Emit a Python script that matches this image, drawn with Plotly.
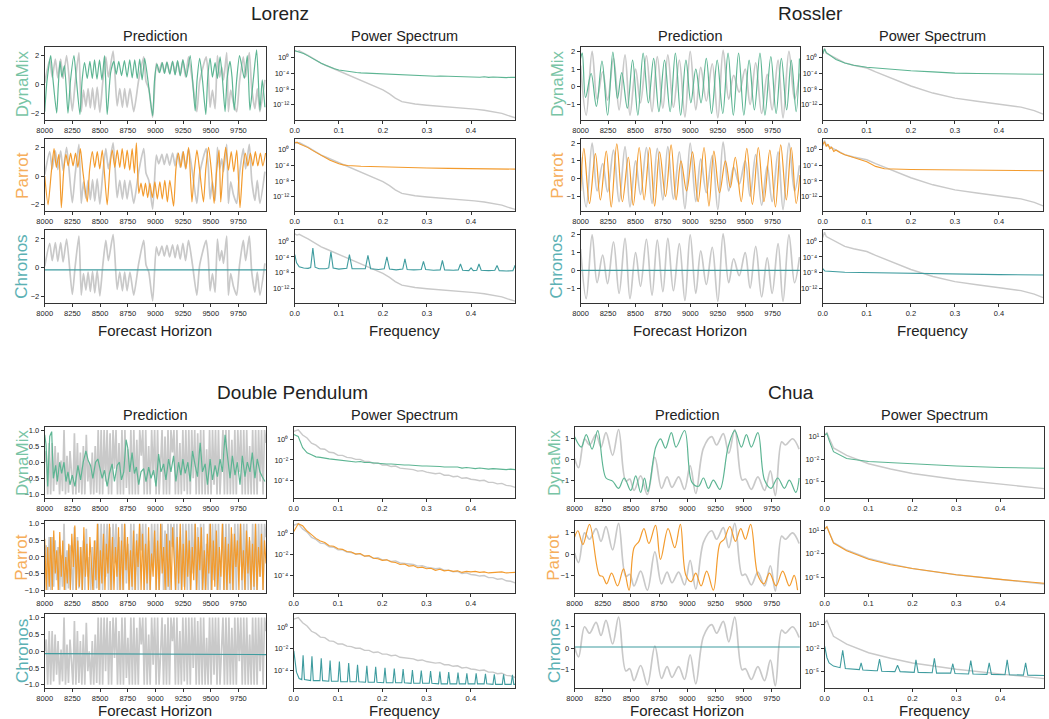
import numpy as np
import plotly.graph_objects as go

# ======================= DATA =======================
horizon_ticks = [8000, 8250, 8500, 8750, 9000, 9250, 9500, 9750]
freq_ticks = [0.0, 0.1, 0.2, 0.3, 0.4]

# ---------- Lorenz (time, value) extrema ----------
lor_gt = [(8000,0.1),(8045,1.7),(8068,0.5),(8096,1.75),(8118,0.45),(8144,1.75),(8166,0.4),(8198,2.0),(8249,-1.85),(8275,0.1),
          (8309,2.2),(8330,-1.9),(8350,-0.4),(8372,-1.55),(8392,-0.3),(8412,-1.65),(8432,-0.25),(8452,-1.75),(8474,-0.2),(8498,-1.95),
          (8525,0.2),(8552,1.9),(8575,0.5),(8618,2.3),(8654,-1.5),(8678,-0.3),(8702,-1.6),(8722,-0.3),(8744,-1.6),(8770,-0.3),
          (8804,-1.9),(8849,0.3),(8894,1.9),(8915,0.2),(8940,-0.3),(8975,-2.3),(9008,1.45),(9030,0.85),(9059,1.5),(9080,0.8),
          (9104,1.55),(9128,0.75),(9155,1.6),(9178,0.7),(9200,1.6),(9224,0.6),(9248,1.7),(9272,0.5),(9299,1.9),(9335,0.2),
          (9374,-1.9),(9400,0.2),(9458,1.9),(9478,0.6),(9494,-1.6),(9515,-0.4),(9539,-1.7),(9560,2.0),(9580,0.5),(9599,1.2),
          (9615,0.3),(9644,2.2),(9659,-1.9),(9680,-0.4),(9705,-1.3),(9734,-1.9),(9760,0.2),(9794,1.9),(9815,0.5),(9848,2.2),
          (9870,-0.3),(9899,-1.7),(9920,-0.3),(9944,-1.9),(9989,0.3)]
lor_dm = [(8000,-1.9),(8020,0.2),(8054,2.0),(8075,0.3),(8108,-2.0),(8122,-0.2),(8138,1.6),(8155,0.5),(8178,1.3),(8210,-2.0),
          (8232,0.2),(8264,2.0),(8285,0.4),(8318,-2.1),(8338,0.3),(8360,1.5),(8384,0.4),(8408,1.6),(8430,0.4),(8450,1.7),
          (8472,0.35),(8495,1.7),(8517,0.3),(8540,2.0),(8564,-2.1),(8595,0.8),(8624,1.6),(8646,0.7),(8669,1.6),(8694,0.6),
          (8720,1.65),(8744,0.5),(8768,1.7),(8790,0.45),(8813,1.7),(8836,0.4),(8858,1.75),(8880,0.3),(8903,1.8),(8935,0.1),
          (8975,-2.2),(8992,0.3),(9014,1.4),(9038,0.8),(9062,1.5),(9083,0.75),(9104,1.55),(9130,0.7),(9155,1.6),(9178,0.65),
          (9200,1.65),(9224,0.6),(9248,1.7),(9280,0.5),(9314,2.0),(9359,-1.85),(9376,0.3),(9400,1.8),(9425,0.3),(9455,-2.1),
          (9472,0.4),(9494,1.8),(9515,0.5),(9539,1.5),(9560,0.4),(9584,1.9),(9605,0.4),(9629,-1.9),(9648,0.4),(9674,1.6),
          (9692,0.5),(9712,-1.8),(9734,0.3),(9760,2.0),(9803,0.4),(9830,2.0),(9854,-1.8),(9885,0.4),(9914,2.4),(9944,-1.8),
          (9965,0.3),(9989,-1.6)]
lor_pa = [(8000,0.0),(8030,-2.0),(8060,0.3),(8084,1.9),(8105,0.6),(8128,1.5),(8150,-2.2),(8172,0.4),(8192,1.5),(8212,0.7),
          (8234,1.6),(8256,0.7),(8278,1.6),(8300,0.6),(8322,1.9),(8345,0.3),(8384,-1.8),(8405,0.4),(8430,1.7),(8452,0.6),
          (8475,1.7),(8497,0.5),(8520,1.8),(8564,-2.0),(8588,0.5),(8610,1.8),(8633,0.6),(8655,1.8),(8678,0.6),(8700,1.9),
          (8722,0.5),(8745,1.8),(8768,0.4),(8790,1.9),(8810,0.2),(8828,2.3),(8850,-1.2),(8870,-0.5),(8890,-1.4),(8910,-0.5),
          (8930,-1.5),(8950,-0.5),(8972,-1.5),(8995,-0.4),(9017,-1.6),(9040,-0.4),(9062,-1.6),(9085,-0.3),(9108,-1.8),(9130,-0.3),
          (9164,-2.1),(9185,0.5),(9208,1.6),(9230,0.6),(9252,1.7),(9275,0.5),(9300,2.0),(9330,-1.8),(9352,0.4),(9375,1.8),
          (9398,0.5),(9434,-1.8),(9455,0.5),(9480,2.0),(9505,0.4),(9530,-1.9),(9552,0.3),(9575,1.8),(9590,-1.8),(9612,0.5),
          (9635,2.0),(9660,0.4),(9685,1.7),(9708,0.3),(9735,1.8),(9764,-2.2),(9790,0.6),(9812,1.6),(9835,0.7),(9858,1.6),
          (9880,0.7),(9903,1.7),(9925,0.7),(9948,1.6),(9970,0.7),(9995,1.6)]
lor_ch = [(8000,-0.14),(9999,-0.15)]

# Lorenz spectra (frequency, log10 power)
lor_ps_gt = [(0.0,1.9),(0.005,1.6),(0.01,1.8),(0.015,1.4),(0.02,1.2),(0.03,0.6),(0.04,-0.1),(0.05,-0.9),(0.06,-1.4),(0.07,-1.9),
             (0.08,-2.4),(0.09,-2.8),(0.1,-3.3),(0.12,-4.3),(0.145,-5.5),(0.17,-6.8),(0.2,-8.2),(0.215,-9.2),(0.228,-10.3),(0.243,-11.2),
             (0.26,-11.6),(0.273,-11.8),(0.3,-12.1),(0.348,-12.5),(0.38,-12.8),(0.408,-13.1),(0.43,-13.4),(0.453,-13.8),(0.47,-14.2),
             (0.483,-14.7),(0.5,-15.3)]
lor_ps_dm = [1.8,1.5,1.1,0.5,-0.2,-0.8,-1.4,-1.9,-2.4,-2.8,-3.1,-3.3,-3.5,-3.6,-3.75,-3.85,-3.9,-4.05,-4.0,-4.15,
             -4.25,-4.2,-4.3,-4.35,-4.3,-4.45,-4.4,-4.5,-4.45,-4.6,-4.55,-4.6,-4.7,-4.65,-4.7,-4.8,-4.7,-4.85,-4.8,-4.9,
             -4.85,-4.9,-4.95,-4.85,-5.0,-4.9,-5.0,-4.95,-5.05,-4.95,-5.0]
lor_ps_pa = [(0,1.7),(0.005,1.9),(0.01,1.5),(0.02,1.1),(0.03,0.5),(0.04,-0.2),(0.05,-0.9),(0.06,-1.5),(0.07,-2.1),(0.08,-2.7),
             (0.09,-3.2),(0.1,-3.6),(0.11,-3.9),(0.12,-4.05),(0.15,-4.25),(0.2,-4.45),(0.25,-4.6),(0.3,-4.72),(0.35,-4.8),(0.4,-4.88),
             (0.45,-4.95),(0.5,-5.0)]
lor_ps_ch = [(0,-3.4),(0.004,-5.5),(0.01,-6.5),(0.02,-6.8),(0.03,-6.9),(0.036,-6.7),(0.041,-1.7),(0.046,-6.6),(0.055,-7.0),(0.07,-7.0),
             (0.077,-6.8),(0.082,-2.7),(0.087,-6.8),(0.1,-7.1),(0.118,-6.9),(0.124,-3.4),(0.13,-7.0),(0.15,-7.1),(0.16,-7.0),(0.166,-3.6),
             (0.172,-7.0),(0.19,-7.2),(0.203,-7.0),(0.209,-4.0),(0.215,-7.1),(0.23,-7.3),(0.245,-7.1),(0.25,-4.5),(0.255,-7.2),(0.27,-7.3),
             (0.287,-7.2),(0.292,-5.1),(0.297,-7.2),(0.315,-7.4),(0.33,-7.3),(0.335,-4.9),(0.34,-7.3),(0.36,-7.4),(0.371,-7.3),(0.376,-5.8),
             (0.381,-7.4),(0.395,-7.5),(0.40,-6.8),(0.405,-7.5),(0.413,-7.4),(0.418,-5.8),(0.423,-7.4),(0.44,-7.5),(0.454,-7.4),(0.459,-6.2),
             (0.464,-7.5),(0.48,-7.6),(0.495,-7.5),(0.5,-6.1)]

# ---------- Rossler ----------
ros_gt = [(8000,1.2),(8051,-1.6),(8105,2.0),(8150,-0.7),(8201,0.85),(8246,-0.75),(8300,1.6),(8351,-1.3),(8405,1.8),(8450,-1.6),
          (8501,1.0),(8546,-0.9),(8600,1.75),(8651,-1.4),(8699,1.7),(8750,-1.2),(8795,1.8),(8846,-1.15),(8900,1.5),(8951,-1.7),
          (8999,2.0),(9050,-1.3),(9095,1.1),(9146,-0.8),(9200,1.3),(9251,-1.75),(9299,2.05),(9350,-0.7),(9395,0.65),(9446,-0.3),
          (9500,1.0),(9545,-1.0),(9596,1.35),(9650,-1.5),(9701,0.7),(9746,-1.3),(9800,1.5),(9845,-1.75),(9899,2.0),(9950,-0.7),
          (9995,0.75)]
ros_dm = [(8000,1.6),(8015,1.9),(8045,-0.6),(8096,0.75),(8144,-1.1),(8195,1.45),(8246,-1.6),(8294,1.95),(8336,-0.65),(8375,0.8),
          (8426,-1.2),(8474,1.5),(8522,-1.6),(8570,1.9),(8618,-0.9),(8666,1.6),(8714,-1.4),(8765,1.5),(8816,-1.4),(8864,1.9),
          (8912,-1.6),(8960,1.5),(9005,-0.9),(9050,1.0),(9098,-0.9),(9146,1.6),(9194,-1.5),(9245,1.5),(9296,-1.5),(9344,1.9),
          (9392,-1.6),(9440,1.9),(9488,-1.6),(9536,1.5),(9584,-1.3),(9635,1.9),(9680,-1.6),(9734,1.7),(9782,-1.5),(9830,1.6),
          (9878,-1.3),(9920,1.5),(9965,-1.4),(9995,1.6)]
ros_pa = [(8000,-0.7),(8030,1.7),(8081,-1.4),(8135,1.4),(8180,-1.2),(8234,1.55),(8279,-1.6),(8330,1.95),(8381,-1.3),(8435,1.2),
          (8480,-1.5),(8534,1.75),(8579,-1.2),(8630,1.75),(8675,-1.55),(8720,1.5),(8774,-1.0),(8825,1.9),(8870,-1.2),(8915,1.0),
          (8966,-0.7),(9020,1.5),(9071,-1.3),(9125,1.75),(9170,-1.55),(9215,1.55),(9266,-0.8),(9320,1.0),(9365,-0.5),(9410,1.2),
          (9464,-1.3),(9515,1.7),(9566,-1.45),(9620,1.75),(9671,-1.3),(9725,1.6),(9776,-1.6),(9824,1.9),(9875,-1.2),(9920,1.75),
          (9965,-1.4),(9999,0.2)]
ros_ch = [(8000,0.0),(9999,0.0)]

ros_ps_gt = [(0,1.0),(0.004,2.3),(0.008,1.2),(0.015,0.8),(0.02,0.5),(0.03,-0.2),(0.05,-1.3),(0.07,-1.9),(0.1,-2.6),(0.12,-3.6),
             (0.15,-5.0),(0.2,-7.2),(0.25,-9.0),(0.3,-10.3),(0.35,-11.1),(0.4,-11.8),(0.45,-12.6),(0.48,-13.5),(0.5,-14.4)]
ros_ps_dm = [(0,1.0),(0.004,2.3),(0.008,1.3),(0.015,0.7),(0.02,0.3),(0.03,-0.4),(0.05,-1.3),(0.07,-1.9),(0.1,-2.4),(0.15,-2.9),
             (0.2,-3.3),(0.25,-3.6),(0.3,-3.9),(0.35,-4.0),(0.4,-4.1),(0.45,-4.1),(0.5,-4.2)]
ros_ps_pa = [(0,1.3),(0.004,2.0),(0.008,0.8),(0.012,1.4),(0.016,0.2),(0.02,0.6),(0.025,-0.5),(0.03,-0.1),(0.04,-0.8),(0.05,-1.3),
             (0.07,-2.0),(0.1,-3.1),(0.12,-4.3),(0.14,-4.9),(0.2,-5.1),(0.3,-5.2),(0.4,-5.3),(0.5,-5.4)]
ros_ps_ch = [(0,-7.0),(0.005,-7.6),(0.05,-7.9),(0.1,-8.0),(0.2,-8.1),(0.3,-8.3),(0.4,-8.5),(0.5,-8.6)]

# ---------- Double Pendulum ----------
dp_gt = [0.0,0.35,-1.0,0.6,-1.0,0.6,-0.9,0.5,-0.7,0.3,-1.0,0.05,-0.9,1.0,-1.0,0.2,-0.95,0.35,-0.3,-1.0,
         0.9,-1.0,0.6,-0.95,0.3,-1.0,0.5,-1.0,0.85,-0.6,0.0,-1.0,0.3,-1.0,0.5,-0.95,1.0,-1.0,
         1.0,-1.0,1.0,-0.6,1.0,-1.0,0.9,-1.0,1.0,-0.2,1.0,-1.0,0.6,-1.0,1.0,-1.0,1.0,-0.8,0.4,-1.0,
         1.0,-1.0,1.0,-1.0,0.7,-1.0,1.0,0.2,1.0,-1.0,1.0,-1.0,0.5,-1.0,1.0,-0.4,1.0,-1.0,1.0,-1.0,
         -0.1,1.0,-1.0,0.8,-1.0,1.0,-1.0,1.0,0.3,1.0,-1.0,1.0,-1.0,0.6,-1.0,1.0,-0.9,1.0,-1.0,1.0,
         -1.0,1.0,-0.5,1.0,-1.0,0.9,-1.0,1.0,-1.0,1.0,-1.0,0.4,-1.0,1.0,-1.0,1.0,-0.7,1.0,-1.0,1.0,
         -1.0,0.2,1.0,-1.0,1.0,-1.0,1.0,-1.0,0.7,-1.0,1.0,-1.0,1.0,-0.3,1.0,-1.0,1.0,-1.0,1.0,-1.0,
         0.5,-1.0,1.0,-1.0,1.0,-1.0,1.0,-0.6,1.0,-1.0,1.0,0.6]
dp_dm = [(8000,0.85),(8012,0.55),(8027,-0.75),(8045,0.8),(8063,0.95),(8078,-0.5),(8099,-0.1),(8114,-0.6),(8135,0.0),(8153,-0.35),
         (8174,0.0),(8192,-0.6),(8210,-0.3),(8228,-0.7),(8249,-0.4),(8273,-0.75),(8300,-0.1),(8324,-0.55),(8348,0.0),(8372,0.35),
         (8393,0.05),(8414,-0.1),(8435,-0.5),(8459,0.0),(8480,0.1),(8498,-0.2),(8519,-0.5),(8540,-0.25),(8564,-0.75),(8585,-0.35),
         (8609,-0.05),(8630,-0.6),(8654,-0.1),(8675,0.0),(8693,-0.55),(8714,-0.3),(8735,0.7),(8750,0.45),(8768,-0.3),(8789,0.3),
         (8810,-0.35),(8828,-0.15),(8849,-0.7),(8870,-0.3),(8894,-0.2),(8915,-0.6),(8939,-0.15),(8960,-0.5),(8984,-0.25),(9005,-0.75),
         (9029,0.25),(9050,-0.3),(9074,-0.05),(9095,-0.55),(9119,0.1),(9140,-0.3),(9164,0.2),(9185,-0.6),(9209,0.0),(9230,-0.4),
         (9248,0.1),(9269,-0.35),(9293,0.0),(9314,-0.6),(9335,0.35),(9359,-0.1),(9380,-0.45),(9404,0.6),(9425,-0.3),(9449,-0.05),
         (9470,-0.7),(9494,0.1),(9515,-0.55),(9539,-0.1),(9560,-0.45),(9584,0.1),(9605,-0.3),(9629,0.85),(9650,0.3),(9674,-0.5),
         (9695,0.2),(9719,-0.4),(9740,0.0),(9764,-0.7),(9785,0.2),(9809,-0.45),(9830,0.0),(9854,-0.3),(9875,0.3),(9899,-0.5),
         (9920,0.1),(9944,-0.3),(9965,-0.45),(9989,-0.6)]
dp_pa = [0.55,-1.0,0.3,-0.9,0.6,-1.0,0.8,-0.5,0.2,-1.0,0.75,-0.6,0.5,-1.0,0.0,-0.8,0.4,-1.0,0.7,-0.3,
         0.95,-1.0,0.5,-0.9,0.3,-1.0,0.9,-0.6,0.4,-1.0,0.6,-0.2,-1.0,0.5,-0.7,1.0,-1.0,0.2,-0.8,0.7,
         -1.0,0.4,-0.5,1.0,-1.0,0.6,-1.0,0.3,-0.6,0.9,-1.0,0.5,-1.0,1.0,-0.4,0.6,-1.0,0.2,-0.9,0.8,
         -1.0,0.5,-0.3,1.0,-1.0,0.7,-1.0,0.4,-0.8,0.9,-1.0,0.1,-0.6,0.8,-1.0,0.5,-1.0,1.0,-0.5,0.3,
         -1.0,0.7,-0.9,0.5,-1.0,0.9,-0.2,-1.0,0.6,-0.8,1.0,-1.0,0.4,-1.0,0.8,-0.6,0.5,-1.0,0.3,-0.7,
         1.0,-1.0,0.6,-0.4,0.9,-1.0,0.2,-1.0,0.7,-0.5,1.0,-1.0,0.5,-0.9,0.8,-1.0,0.3,-0.6,1.0,-1.0,
         0.6,-1.0,0.4,-0.8,0.9,-1.0,0.7,-0.3,0.5,-1.0,1.0,-0.7,0.2,-1.0,0.8,-0.5,0.6,-1.0,0.4,-0.9,
         1.0,-1.0,0.3,-0.6,0.7,-1.0,0.5,-0.2]
dp_ch = [(8000,-0.07),(9999,-0.1)]

# DP spectra sampled every 0.01 in frequency (log10 power)
dp_ps_gt = [0.8,0.95,0.45,0.15,-0.35,-0.55,-0.9,-0.95,-1.25,-1.3,-1.55,-1.55,-1.75,-1.8,-1.95,-1.95,-2.15,-2.15,-2.35,-2.3,
            -2.5,-2.5,-2.65,-2.6,-2.8,-2.85,-2.9,-2.95,-3.1,-3.05,-3.2,-3.25,-3.35,-3.3,-3.5,-3.5,-3.65,-3.6,-3.8,-3.75,
            -3.9,-3.95,-4.05,-4.0,-4.2,-4.2,-4.35,-4.3,-4.5,-4.55,-4.7]
dp_ps_dm = [0.5,0.3,-0.8,-1.3,-1.5,-1.7,-1.75,-1.85,-1.9,-1.95,-2.0,-2.05,-2.1,-2.1,-2.2,-2.15,-2.25,-2.25,-2.3,-2.3,
            -2.35,-2.4,-2.4,-2.45,-2.45,-2.5,-2.5,-2.55,-2.55,-2.6,-2.6,-2.6,-2.65,-2.65,-2.7,-2.7,-2.75,-2.7,-2.8,-2.75,
            -2.8,-2.85,-2.8,-2.85,-2.9,-2.85,-2.9,-2.9,-2.95,-2.9,-2.95]
dp_ps_pa = [0.2,0.95,0.75,0.25,-0.1,-0.45,-0.7,-0.85,-1.15,-1.2,-1.45,-1.5,-1.7,-1.75,-1.95,-1.9,-2.15,-2.1,-2.35,-2.4,
            -2.55,-2.5,-2.7,-2.75,-2.95,-2.9,-3.1,-3.05,-3.25,-3.2,-3.35,-3.3,-3.5,-3.4,-3.55,-3.5,-3.6,-3.55,-3.7,-3.6,
            -3.65,-3.6,-3.7,-3.65,-3.75,-3.7,-3.7,-3.65,-3.75,-3.7,-3.7]
dp_ps_ch = [(0,-2.2),(0.006,-4.2),(0.012,-4.8),(0.018,-4.9),(0.021,-2.6),(0.024,-4.9),(0.038,-5.0),(0.041,-2.7),(0.044,-5.0),
            (0.059,-5.0),(0.062,-2.9),(0.065,-5.0),(0.079,-5.05),(0.082,-3.1),(0.085,-5.05),(0.100,-5.05),(0.103,-3.2),(0.106,-5.1),
            (0.121,-5.1),(0.124,-3.35),(0.127,-5.1),(0.141,-5.1),(0.144,-3.5),(0.147,-5.1),(0.162,-5.15),(0.165,-3.6),(0.168,-5.15),
            (0.182,-5.15),(0.185,-3.7),(0.188,-5.15),(0.203,-5.2),(0.206,-3.8),(0.209,-5.2),(0.224,-5.2),(0.227,-3.85),(0.230,-5.2),
            (0.244,-5.2),(0.247,-3.9),(0.250,-5.2),(0.265,-5.25),(0.268,-4.0),(0.271,-5.25),(0.285,-5.25),(0.288,-4.05),(0.291,-5.25),
            (0.306,-5.25),(0.309,-4.1),(0.312,-5.25),(0.327,-5.3),(0.330,-4.15),(0.333,-5.3),(0.347,-5.3),(0.350,-4.2),(0.353,-5.3),
            (0.368,-5.3),(0.371,-4.25),(0.374,-5.3),(0.388,-5.3),(0.391,-4.3),(0.394,-5.3),(0.409,-5.3),(0.412,-4.3),(0.415,-5.3),
            (0.430,-5.3),(0.433,-4.35),(0.436,-5.3),(0.450,-5.35),(0.453,-4.4),(0.456,-5.35),(0.471,-5.35),(0.474,-4.4),(0.477,-5.35),
            (0.491,-5.35),(0.494,-4.45),(0.497,-5.35),(0.5,-5.35)]

# ---------- Chua ----------
chua_gt = [(8000,0.05),(8035,-0.4),(8088,1.0),(8132,0.7),(8190,1.2),(8234,0.6),(8278,1.3),(8337,0.2),(8390,1.45),(8454,-1.05),
           (8489,-0.95),(8527,-1.5),(8586,-0.8),(8645,-1.7),(8712,0.1),(8771,-1.4),(8820,-0.85),(8864,-1.35),(8923,-0.85),(8975,-1.45),
           (9025,-0.3),(9075,-1.65),(9143,0.55),(9216,1.1),(9260,0.7),(9319,1.25),(9368,0.3),(9421,1.45),(9486,-1.0),(9515,-0.95),
           (9568,-1.45),(9626,-0.85),(9685,-1.5),(9737,-0.55),(9781,-1.75),(9837,0.85),(9870,0.7),(9934,1.0),(9992,0.5)]
chua_dm = [(8000,1.1),(8059,0.6),(8103,1.2),(8155,0.5),(8205,1.4),(8278,-0.9),(8337,-1.05),(8390,-1.4),(8440,-0.9),(8498,-1.5),
           (8542,-0.8),(8586,-1.6),(8620,-0.9),(8650,-1.55),(8720,0.6),(8762,1.0),(8806,0.55),(8858,1.3),(8900,0.6),(8976,1.4),
           (9040,-1.1),(9099,-1.3),(9143,-0.9),(9187,-1.4),(9231,-1.0),(9289,-1.45),(9362,0.6),(9421,1.4),(9480,0.6),(9524,1.2),
           (9568,0.6),(9626,1.3),(9685,-1.0),(9743,-1.4),(9802,-0.9),(9861,-1.4),(9905,-1.0),(9963,-1.6),(9992,-0.9)]
chua_pa = [(8000,0.8),(8029,1.1),(8073,0.45),(8132,1.4),(8220,-1.0),(8249,-1.05),(8284,-1.4),(8328,-0.9),(8381,-1.5),(8434,-0.7),
           (8483,-1.7),(8527,0.3),(8571,0.6),(8615,1.2),(8659,0.5),(8718,1.35),(8762,-0.25),(8829,1.2),(8888,0.3),(8938,1.4),
           (8987,-1.0),(9034,-1.3),(9075,-0.9),(9122,-1.5),(9172,-0.8),(9231,-1.7),(9289,0.5),(9327,0.7),(9377,1.3),(9427,0.6),
           (9474,1.2),(9515,0.7),(9562,1.4),(9626,-1.0),(9679,-1.4),(9729,-0.9),(9787,-1.5),(9846,-0.8),(9905,-1.5),(9948,-1.0),
           (9978,-1.7)]
chua_ch = [(8000,0.06),(9999,0.06)]

chua_ps_gt = [(0,1.2),(0.005,1.5),(0.01,0.8),(0.02,-0.5),(0.05,-1.5),(0.1,-2.6),(0.15,-3.3),(0.2,-3.9),(0.3,-4.7),(0.4,-5.3),(0.5,-5.9)]
chua_ps_dm = [(0,1.2),(0.005,1.4),(0.01,0.5),(0.02,-1.0),(0.05,-1.9),(0.1,-2.3),(0.2,-2.6),(0.3,-2.9),(0.4,-3.1),(0.5,-3.2)]
chua_ps_pa = [(0,1.2),(0.005,1.5),(0.01,0.8),(0.02,-0.6),(0.05,-1.6),(0.1,-2.7),(0.15,-3.4),(0.2,-3.9),(0.3,-4.7),(0.4,-5.3),(0.5,-5.8)]
chua_ps_ch = [(0,-1.8),(0.005,-3.2),(0.01,-3.9),(0.02,-4.3),(0.035,-4.5),(0.041,-2.3),(0.047,-4.6),(0.07,-4.7),(0.079,-4.75),
              (0.083,-3.9),(0.087,-4.8),(0.115,-4.9),(0.12,-4.9),(0.125,-3.4),(0.13,-4.95),(0.16,-5.0),(0.166,-4.2),(0.172,-5.0),
              (0.2,-5.05),(0.204,-5.1),(0.208,-3.5),(0.213,-5.1),(0.245,-5.15),(0.25,-3.3),(0.255,-5.2),(0.287,-5.2),(0.292,-4.0),
              (0.297,-5.25),(0.328,-5.3),(0.333,-3.6),(0.338,-5.3),(0.37,-5.35),(0.375,-3.9),(0.38,-5.35),(0.411,-5.4),(0.416,-3.5),
              (0.421,-5.4),(0.453,-5.45),(0.458,-3.9),(0.463,-5.45),(0.5,-5.5)]

# ======================= STYLE / LAYOUT =======================
FONT = "Liberation Sans, Arial, Helvetica, sans-serif"
W, H = 1049, 719
C_GT, C_DM, C_PA, C_CH = "#c9c9c9", "#5db593", "#f39b2d", "#3f9c9f"
L_DM, L_PA, L_CH = "#78c4a5", "#f6ae5c", "#5cb1b4"
SUP = str.maketrans("-0123456789", "⁻⁰¹²³⁴⁵⁶⁷⁸⁹")


def pow_label(e):
    return "10" + str(e).translate(SUP)


def unzip(pairs):
    return [p[0] for p in pairs], [p[1] for p in pairs]


def series_xy(ser, lo, hi):
    if isinstance(ser[0], tuple):
        return unzip(ser)
    return list(np.linspace(lo, hi, len(ser))), ser


blocks = [
    dict(name="Lorenz", title=(274, 13), pred_x=(37, 260), ps_x=(289, 511),
         rows=[(46, 119), (138, 211), (230, 303)], label_x=14, coltitle_y=35, xtitle_y=330,
         series=[lor_dm, lor_pa, lor_ch], gt=lor_gt, shape="spline", smooth=0.6,
         yrange=[-2.46, 2.6], yticks=[-2, 0, 2], ytext=["−2", "0", "2"],
         ps=[lor_ps_dm, lor_ps_pa, lor_ps_ch], ps_gt=lor_ps_gt, psrange=[-15.8, 2.8], psticks=[0, -4, -8, -12]),
    dict(name="Rossler", title=(809, 13), pred_x=(577, 798), ps_x=(821, 1043),
         rows=[(46, 119), (138, 211), (230, 303)], label_x=553, coltitle_y=35, xtitle_y=330,
         series=[ros_dm, ros_pa, ros_ch], gt=ros_gt, shape="spline", smooth=1.0,
         yrange=[-1.85, 2.25], yticks=[-1, 0, 1, 2], ytext=["−1", "0", "1", "2"],
         ps=[ros_ps_dm, ros_ps_pa, ros_ps_ch], ps_gt=ros_ps_gt, psrange=[-15.8, 2.8], psticks=[0, -4, -8, -12]),
    dict(name="Double Pendulum", title=(287, 393), pred_x=(37, 260), ps_x=(288, 511),
         rows=[(427, 498), (521, 594), (615, 689)], label_x=14, coltitle_y=415, xtitle_y=711,
         series=[dp_dm, dp_pa, dp_ch], gt=dp_gt, shape="linear", smooth=0,
         yrange=[-1.1, 1.1], yticks=[-1, -0.5, 0, 0.5, 1], ytext=["−1.0", "−0.5", "0.0", "0.5", "1.0"],
         ps=[dp_ps_dm, dp_ps_pa, dp_ps_ch], ps_gt=dp_ps_gt, psrange=[-5.7, 1.25], psticks=[0, -2, -4]),
    dict(name="Chua", title=(789, 393), pred_x=(571, 798), ps_x=(823, 1044),
         rows=[(427, 498), (521, 594), (615, 689)], label_x=550, coltitle_y=415, xtitle_y=711,
         series=[chua_dm, chua_pa, chua_ch], gt=chua_gt, shape="spline", smooth=1.0,
         yrange=[-1.85, 1.58], yticks=[-1, 0, 1], ytext=["−1", "0", "1"],
         ps=[chua_ps_dm, chua_ps_pa, chua_ps_ch], ps_gt=chua_ps_gt, psrange=[-7.1, 2.3], psticks=[1, -2, -5]),
]
models = [("DynaMix", C_DM, L_DM), ("Parrot", C_PA, L_PA), ("Chronos", C_CH, L_CH)]

axis_common = dict(showline=True, linecolor="#333", linewidth=1, mirror=True, ticks="outside", ticklen=3,
                   tickwidth=0.8, tickcolor="#333", showgrid=False, zeroline=False,
                   tickfont=dict(family=FONT, size=7.5, color="#222"))

fig = go.Figure()
layout_axes = {}
annotations = []
k = 0


def add_panel(box_x, box_y, traces, xcfg, ycfg):
    global k
    k += 1
    xn = "x" if k == 1 else f"x{k}"
    yn = "y" if k == 1 else f"y{k}"
    for tr in traces:
        tr.update(xaxis=xn, yaxis=yn, showlegend=False, hoverinfo="skip")
        fig.add_trace(tr)
    xa = dict(axis_common, domain=[box_x[0] / W, box_x[1] / W], anchor=yn, **xcfg)
    ya = dict(axis_common, domain=[1 - box_y[1] / H, 1 - box_y[0] / H], anchor=xn, **ycfg)
    layout_axes["xaxis" if k == 1 else f"xaxis{k}"] = xa
    layout_axes["yaxis" if k == 1 else f"yaxis{k}"] = ya


def text(x, y, s, size, color="#222", angle=0):
    annotations.append(dict(x=x / W, y=1 - y / H, xref="paper", yref="paper", text=s, showarrow=False,
                            font=dict(family=FONT, size=size, color=color), textangle=angle,
                            xanchor="center", yanchor="middle"))


def line_style(color, width, shape, smooth):
    d = dict(color=color, width=width, shape=shape)
    if shape == "spline":
        d["smoothing"] = smooth
    return d


for b in blocks:
    text(b["title"][0], b["title"][1], b["name"], 19)
    text(sum(b["pred_x"]) / 2, b["coltitle_y"], "Prediction", 14.5)
    text(sum(b["ps_x"]) / 2, b["coltitle_y"], "Power Spectrum", 14.5)
    text(sum(b["pred_x"]) / 2, b["xtitle_y"], "Forecast Horizon", 15)
    text(sum(b["ps_x"]) / 2, b["xtitle_y"], "Frequency", 15)

    gt_t, gt_y = series_xy(b["gt"], 8000, 9999)
    psg_f, psg_v = series_xy(b["ps_gt"], 0, 0.5)

    for r, (mname, mcol, lcol) in enumerate(models):
        ry = b["rows"][r]
        text(b["label_x"], sum(ry) / 2, mname, 17, lcol, -90)
        st, sy = series_xy(b["series"][r], 8000, 9999)
        shape = b["shape"] if r < 2 else "linear"
        traces = [
            go.Scatter(x=gt_t, y=gt_y, mode="lines", line=line_style(C_GT, 1.7, b["shape"], b["smooth"])),
            go.Scatter(x=st, y=sy, mode="lines", line=line_style(mcol, 1.2, shape, b["smooth"])),
        ]
        add_panel(b["pred_x"], ry, traces,
                  dict(range=[8000, 9999], tickvals=horizon_ticks, ticktext=[str(v) for v in horizon_ticks]),
                  dict(range=b["yrange"], tickvals=b["yticks"], ticktext=b["ytext"]))

        pf, pv = series_xy(b["ps"][r], 0, 0.5)
        traces = [
            go.Scatter(x=psg_f, y=[10 ** v for v in psg_v], mode="lines", line=dict(color=C_GT, width=1.4)),
            go.Scatter(x=pf, y=[10 ** v for v in pv], mode="lines", line=dict(color=mcol, width=1.1)),
        ]
        add_panel(b["ps_x"], ry, traces,
                  dict(range=[0, 0.5], tickvals=freq_ticks, ticktext=[f"{v:.1f}" for v in freq_ticks]),
                  dict(type="log", range=b["psrange"], tickvals=[10.0 ** e for e in b["psticks"]],
                       ticktext=[pow_label(e) for e in b["psticks"]]))

fig.update_layout(width=W, height=H, margin=dict(l=0, r=0, t=0, b=0), paper_bgcolor="white",
                  plot_bgcolor="white", annotations=annotations, **layout_axes)
fig.write_html("out.html")
